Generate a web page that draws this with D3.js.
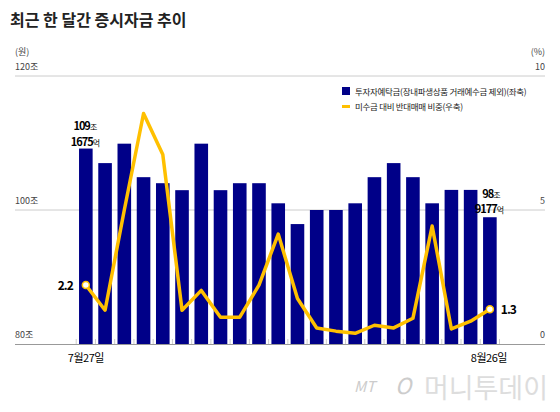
<!DOCTYPE html><html><head><meta charset="utf-8"><script src="https://cdn.jsdelivr.net/npm/d3@7"></script>
<style>body{margin:0;background:#fff}text{font-family:"Noto Sans CJK KR","Noto Sans",sans-serif}</style></head><body>
<svg id="c" width="560" height="412"></svg>
<script>
const dates=d3.range(22).map(i=>"d"+i);
const deposits=[109.17,107.0,109.9,104.9,104.0,102.96,109.9,102.96,104.0,104.0,101.0,97.9,100,100,101.0,104.9,107.0,104.9,101.0,103.0,103.0,98.92];
const ratio=[2.2,1.26,5.0,8.6,7.07,1.26,2.0,1.0,1.0,2.2,4.1,1.7,0.6,0.48,0.4,0.7,0.6,0.96,4.4,0.56,0.85,1.3];
const leftTicks=[80,100,120], rightTicks=[0,5,10];
const svg=d3.select("#c");
svg.append("text").attr("x",10).attr("y",26).attr("font-size",16).attr("font-weight","bold").attr("fill","#222").text("최근 한 달간 증시자금 추이");
const x=d3.scaleBand().domain(dates).range([76.2,499.5]).paddingInner(0.293).paddingOuter(0.147);
const yl=d3.scaleLinear().domain([80,120]).range([344,76]);
const yr=d3.scaleLinear().domain([0,10]).range([344,76]);
[100,120].forEach(v=>svg.append("line").attr("x1",15).attr("x2",545).attr("y1",yl(v)).attr("y2",yl(v)).attr("stroke","#ccc"));
leftTicks.forEach(v=>svg.append("text").attr("x",15).attr("y",yl(v)-6).attr("font-size",9).attr("fill","#444").text(v+"조"));
rightTicks.forEach(v=>svg.append("text").attr("x",545).attr("y",yr(v)-6).attr("font-size",9).attr("fill","#444").attr("text-anchor","end").text(v));
svg.append("text").attr("x",15).attr("y",55).attr("font-size",9).attr("fill","#444").text("(원)");
svg.append("text").attr("x",545).attr("y",55).attr("font-size",9).attr("fill","#444").attr("text-anchor","end").text("(%)");
svg.selectAll(".b").data(deposits).join("rect").attr("x",(d,i)=>x(dates[i])).attr("width",x.bandwidth()).attr("y",d=>yl(d)).attr("height",d=>344-yl(d)).attr("fill","#000088");
svg.append("line").attr("x1",15).attr("x2",545).attr("y1",344.5).attr("y2",344.5).attr("stroke","#999");
const step=x.step();
d3.range(23).forEach(i=>{const xx=x(dates[0])-(step-x.bandwidth())/2+i*step;svg.append("line").attr("x1",xx).attr("x2",xx).attr("y1",339).attr("y2",344).attr("stroke","#ccc");});
const cx=i=>x(dates[i])+x.bandwidth()/2;
svg.append("path").datum(ratio).attr("d",d3.line().x((d,i)=>cx(i)).y(d=>yr(d))).attr("fill","none").attr("stroke","#ffc000").attr("stroke-width",3.5).attr("stroke-linejoin","round");
[0,21].forEach(i=>svg.append("circle").attr("cx",cx(i)).attr("cy",yr(ratio[i])).attr("r",3.5).attr("fill","#fff").attr("stroke","#ffc000").attr("stroke-width",1.5));
svg.append("text").attr("x",cx(0)-13).attr("y",yr(ratio[0])+5).attr("font-size",12).attr("font-weight","bold").attr("text-anchor","end").attr("letter-spacing","-1").text("2.2");
svg.append("text").attr("x",cx(21)+11).attr("y",yr(ratio[21])+5).attr("font-size",12).attr("font-weight","bold").attr("letter-spacing","-1").text("1.3");
function big(xp,y,a,b){const t=svg.append("text").attr("x",xp).attr("y",y).attr("font-size",11).attr("font-weight","bold").attr("text-anchor","middle").attr("letter-spacing","-1");t.append("tspan").text(a);t.append("tspan").attr("font-size",8).attr("font-weight","normal").text(b);}
big(cx(0)-1,130,"109","조");big(cx(0)-1,146,"1675","억");
big(cx(21)+1,198,"98","조");big(cx(21)-1,213,"9177","억");
svg.append("text").attr("x",cx(0)).attr("y",362).attr("font-size",11).attr("text-anchor","middle").attr("letter-spacing","-0.5").text("7월27일");
svg.append("text").attr("x",cx(21)-1).attr("y",362).attr("font-size",11).attr("text-anchor","middle").attr("letter-spacing","-0.5").text("8월26일");
svg.append("rect").attr("x",342).attr("y",87).attr("width",8).attr("height",8).attr("fill","#000088");
svg.append("text").attr("x",355).attr("y",95).attr("font-size",8.5).attr("fill","#222").attr("letter-spacing","-0.3").text("투자자예탁금(장내파생상품 거래예수금 제외)(좌축)");
svg.append("rect").attr("x",342).attr("y",105).attr("width",8).attr("height",3).attr("fill","#ffc000");
svg.append("text").attr("x",355).attr("y",110).attr("font-size",8.5).attr("fill","#222").attr("letter-spacing","-0.3").text("미수금 대비 반대매매 비중(우축)");
svg.append("text").attr("x",354).attr("y",392).attr("font-size",15).attr("font-style","italic").attr("fill","#ccc").text("MT");
svg.append("text").attr("x",395).attr("y",394).attr("font-size",22).attr("fill","#ccc").attr("font-style","italic").text("O");
svg.append("text").attr("x",424).attr("y",398).attr("font-size",27).attr("fill","#ddd").attr("textLength",124).text("머니투데이");
</script></body></html>
